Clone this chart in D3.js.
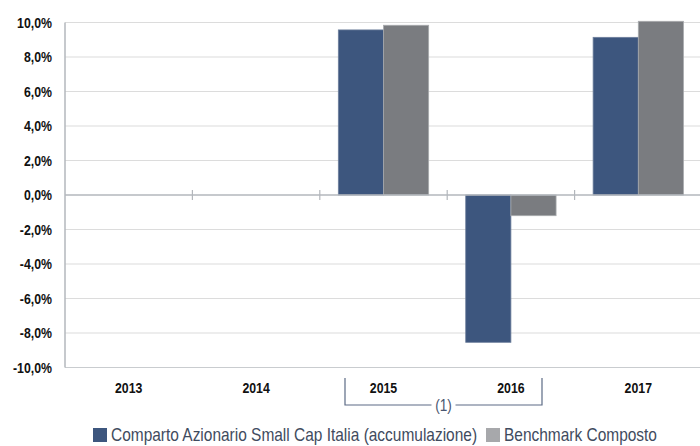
<!DOCTYPE html>
<html lang="it">
<head>
<meta charset="UTF-8">
<title>Rendimenti annui</title>
<style>
    body{ margin:0; background:#fff; }
</style>
<script src="https://cdn.jsdelivr.net/npm/d3@7/dist/d3.min.js"></script>
</head>
<body>
<div id="container"></div>
<script>

var years = ["2013", "2014", "2015", "2016", "2017"];
var fund = [null, null, 9.57, -8.54, 9.14];
var benchmark = [null, null, 9.84, -1.2, 10.07];
var yTicks = [10, 8, 6, 4, 2, 0, -2, -4, -6, -8, -10];
var seriesNames = ["Comparto Azionario Small Cap Italia (accumulazione)", "Benchmark Composto"];
var colors = ["#3d567e", "#7a7c80"];

var w = 700, h = 446;
var mLeft = 65, mRight = 702, mTop = 22.5, mBottom = 367.5;
var font = "'Liberation Sans Narrow','Arial Narrow','Liberation Sans',sans-serif";

var svg = d3.select("#container").append("svg")
    .attr("width", w).attr("height", h);

var x = d3.scaleBand().domain(years).range([mLeft, mRight]);
var y = d3.scaleLinear().domain([-10, 10]).range([mBottom, mTop]);

// squeeze text horizontally to get the condensed look
function condensed(sel, px, py, k) {
    return sel.attr("x", 0).attr("y", 0)
        .attr("transform", "translate(" + px + "," + py + ") scale(" + k + ",1)");
}

//gridlines
svg.selectAll("line.grid")
    .data(yTicks.filter(function(d){ return d !== 0; }))
    .enter().append("line")
    .attr("class", "grid")
    .attr("x1", mLeft).attr("x2", w)
    .attr("y1", function(d){ return y(d); })
    .attr("y2", function(d){ return y(d); })
    .attr("stroke", function(d){ return d === -10 ? "#c9cccf" : "#dcdcdc"; })
    .attr("stroke-width", 1.2);

//y labels
svg.selectAll("text.ylab")
    .data(yTicks)
    .enter().append("text")
    .attr("class", "ylab")
    .attr("text-anchor", "end")
    .attr("font-family", font)
    .attr("font-weight", "bold")
    .attr("font-size", "14px")
    .attr("fill", "#111")
    .each(function(d){ condensed(d3.select(this), 52, y(d) + 5, 0.88); })
    .text(function(d){ return d.toFixed(1).replace(".", ",") + "%"; });

//bars
var sub = d3.scaleBand().domain([0, 1]).range([0, x.bandwidth()]).paddingOuter(0.41);
[fund, benchmark].forEach(function(vals, s) {
    svg.selectAll("rect.s" + s)
        .data(years.map(function(yr, i){ return {year: yr, v: vals[i]}; })
                   .filter(function(d){ return d.v !== null; }))
        .enter().append("rect")
        .attr("class", "s" + s)
        .attr("x", function(d){ return x(d.year) + sub(s); })
        .attr("width", sub.bandwidth())
        .attr("y", function(d){ return y(Math.max(0, d.v)); })
        .attr("height", function(d){ return Math.abs(y(d.v) - y(0)); })
        .attr("fill", colors[s])
        .attr("stroke", s === 0 ? "#6d7f9c" : "#a9abae")
        .attr("stroke-width", 0.8);
});

//axes lines
svg.append("line")
    .attr("x1", mLeft).attr("x2", mLeft)
    .attr("y1", mTop).attr("y2", mBottom)
    .attr("stroke", "#b3b7bc").attr("stroke-width", 1.5);
svg.append("line")
    .attr("x1", mLeft).attr("x2", w)
    .attr("y1", y(0)).attr("y2", y(0))
    .attr("stroke", "#b3b7bc").attr("stroke-width", 1.5);
svg.selectAll("line.tk")
    .data(years.slice(1))
    .enter().append("line")
    .attr("x1", function(d){ return x(d); })
    .attr("x2", function(d){ return x(d); })
    .attr("y1", y(0) - 5).attr("y2", y(0) + 5)
    .attr("stroke", "#b3b7bc").attr("stroke-width", 1.2);

//category labels
svg.selectAll("text.xlab")
    .data(years)
    .enter().append("text")
    .attr("text-anchor", "middle")
    .attr("font-family", font)
    .attr("font-weight", "bold")
    .attr("font-size", "14px")
    .attr("fill", "#111")
    .each(function(d){ condensed(d3.select(this), x(d) + x.bandwidth() / 2, 393, 0.88); })
    .text(function(d){ return d; });

//bracket (1)
var bx1 = 345, bx2 = 542, by = 405, cx = (bx1 + bx2) / 2;
svg.append("path")
    .attr("d", "M" + bx1 + ",378V" + by + "H" + (cx - 12) +
               "M" + (cx + 12) + "," + by + "H" + bx2 + "V378")
    .attr("fill", "none").attr("stroke", "#5c6b85").attr("stroke-width", 1.2);
condensed(svg.append("text"), cx, by + 6, 0.8)
    .attr("text-anchor", "middle")
    .attr("font-family", font)
    .attr("font-size", "17px")
    .attr("fill", "#4a5670")
    .text("(1)");

//legend
var lg = [{x: 93, name: seriesNames[0], c: colors[0]}, {x: 486, name: seriesNames[1], c: "#a7a8ab"}];
lg.forEach(function(d) {
    svg.append("rect").attr("x", d.x).attr("y", 428).attr("width", 14).attr("height", 14).attr("fill", d.c);
    condensed(svg.append("text"), d.x + 18, 441, 0.86)
        .attr("font-family", font)
        .attr("font-size", "18px")
        .attr("fill", "#3f4b5e")
        .text(d.name);
});

</script>
</body>
</html>
